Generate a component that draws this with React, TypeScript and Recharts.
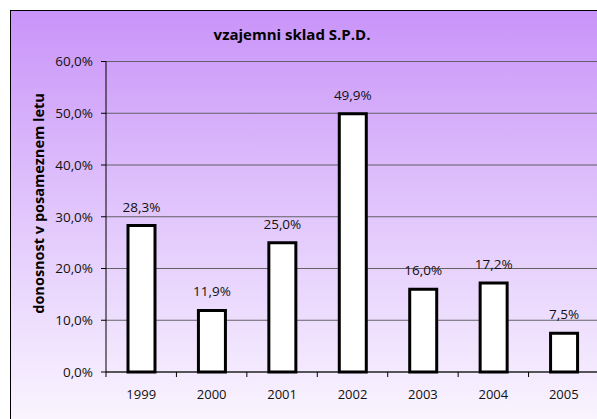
import { Bar, BarChart, CartesianGrid, LabelList, XAxis, YAxis } from "recharts"

const years = ["1999", "2000", "2001", "2002", "2003", "2004", "2005"]
const returns = [28.3, 11.9, 25.0, 49.9, 16.0, 17.2, 7.5]
const yTicks = [0, 10, 20, 30, 40, 50, 60]

const title = "vzajemni sklad S.P.D."
const yTitle = "donosnost v posameznem letu"

const data = years.map((year, i) => ({ year, value: returns[i] }))

const W = 620
const H = 430
const margin = { top: 53.5, right: 29, bottom: 36, left: 38 }
const Y_AXIS_W = 60
const X_AXIS_H = 30
const plotW = W - margin.left - margin.right - Y_AXIS_W
const halfBand = plotW / years.length / 2

const font = "'Open Sans', sans-serif"
const fmt = (v: number) => `${v.toFixed(1).replace(".", ",")}%`

// label at band centre, tick mark at band boundary (like the original)
function YearTick({ x, y, payload }: any) {
  return (
    <g>
      <line x1={x - halfBand} x2={x - halfBand} y1={y} y2={y + 5} stroke="#000" />
      <text x={x} y={y + 27} textAnchor="middle" fontSize={13} fill="#111" fontFamily={font}>
        {payload.value}
      </text>
    </g>
  )
}

export default function App() {
  return (
    <div
      style={{
        position: "fixed",
        left: 0,
        top: 0,
        right: 0,
        bottom: 0,
        overflow: "hidden",
        background: "#fff",
      }}
    >
      <div
        style={{
          position: "absolute",
          left: 10,
          top: 10,
          right: -30,
          bottom: -30,
          borderLeft: "1px solid #000",
          borderTop: "1px solid #000",
          background: "linear-gradient(to bottom, #c994f9 0%, #e2c8fc 48%, #fdfbff 100%)",
        }}
      />
      <div style={{ position: "absolute", left: 8, top: 8, width: W, height: H }}>
        <BarChart width={W} height={H} data={data} margin={margin} barSize={27}>
          <CartesianGrid vertical={false} stroke="#555" strokeOpacity={0.9} />
          <XAxis
            dataKey="year"
            height={X_AXIS_H}
            axisLine={{ stroke: "#000" }}
            tickLine={false}
            tickSize={0}
            tickMargin={0}
            tick={<YearTick />}
            interval={0}
          />
          <YAxis
            width={Y_AXIS_W}
            domain={[0, 60]}
            ticks={yTicks}
            tickFormatter={fmt}
            axisLine={{ stroke: "#000" }}
            tickLine={{ stroke: "#000" }}
            tickSize={5}
            tickMargin={8}
            tick={{ fontSize: 13.5, fill: "#111", fontFamily: font }}
            interval={0}
          />
          <Bar dataKey="value" fill="#fff" stroke="#000" strokeWidth={3} isAnimationActive={false}>
            <LabelList
              dataKey="value"
              position="top"
              offset={14}
              formatter={(v: any) => fmt(Number(v))}
              style={{ fontSize: 13.5, fill: "#111", fontFamily: font }}
            />
          </Bar>
        </BarChart>
      </div>
      <svg
        width={597}
        height={419}
        style={{ position: "absolute", left: 0, top: 0, pointerEvents: "none" }}
      >
        <text x={292} y={40} textAnchor="middle" fontSize={15} fontWeight="bold" fontFamily={font} fill="#000">
          {title}
        </text>
        <text
          x={38.5}
          y={203.5}
          textAnchor="middle"
          fontSize={14.5}
          fontWeight="bold"
          fontFamily={font}
          fill="#000"
          transform="rotate(-90 38.5 203.5)"
          dy="0.35em"
        >
          {yTitle}
        </text>
      </svg>
    </div>
  )
}
